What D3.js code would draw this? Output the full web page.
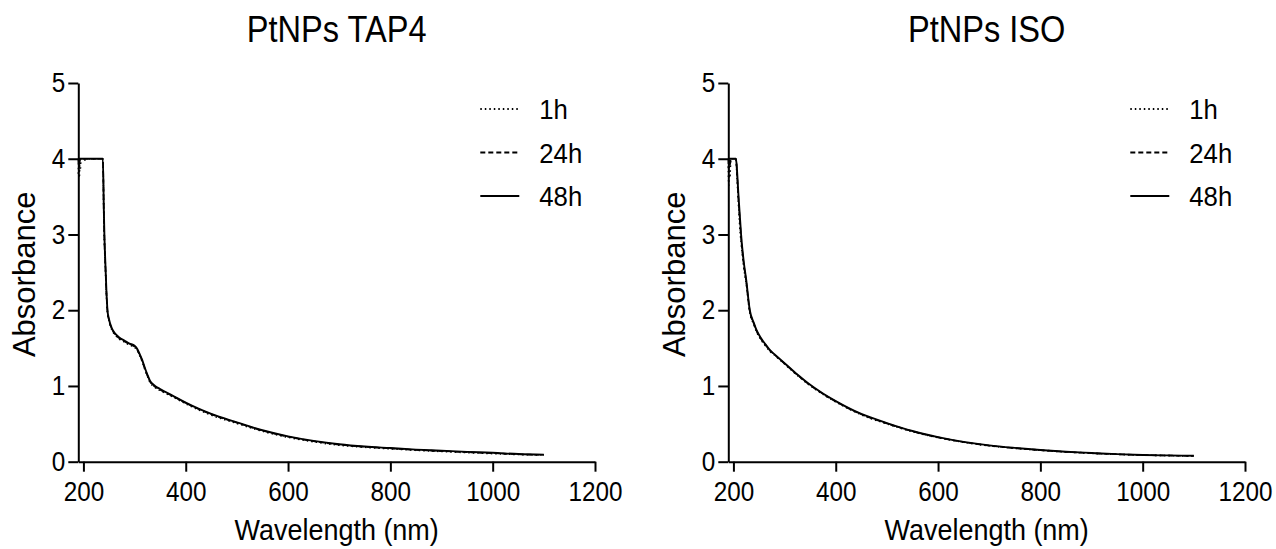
<!DOCTYPE html>
<html>
<head>
<meta charset="utf-8">
<script src="https://cdn.jsdelivr.net/npm/d3@7"></script>
<style>
body{margin:0;background:#fff;}
svg text{font-family:"Liberation Sans",Arial,sans-serif;fill:#000;}
</style>
</head>
<body>
<svg id="chart" width="1276" height="549"></svg>
<script>
'use strict';

var xTicks=[200,400,600,800,1000,1200]
  , yTicks=[0,1,2,3,4,5]
  , seriesNames=['1h','24h','48h']
  , dashes=['1.5,3','5,3','none'];

var tapWl=[190,191,192,193,194,195,200,210,220,230,238,240,241,243,245,247,250,255,260,265,270,280,290,300,305,310,315,320,325,330,340,350,375,400,425,450,500,550,600,650,700,750,800,850,900,950,1000,1050,1100]
  , tap1h=[3.8,4,3.75,3.95,3.85,4,3.98,4,4,4,4,3.2,2.9,2.55,2.2,1.97,1.86,1.75,1.69,1.65,1.62,1.58,1.54,1.51,1.47,1.4,1.32,1.22,1.13,1.05,0.98,0.94,0.855,0.765,0.685,0.615,0.505,0.402,0.322,0.263,0.218,0.19,0.17,0.15,0.135,0.12,0.107,0.095,0.088]
  , tap24h=[4,3.9,4,3.96,4,4,4,4,4,4,4,3.25,2.95,2.58,2.23,1.99,1.87,1.76,1.7,1.66,1.63,1.59,1.55,1.52,1.48,1.41,1.33,1.23,1.14,1.06,0.99,0.95,0.865,0.775,0.695,0.625,0.515,0.41,0.33,0.27,0.225,0.196,0.176,0.155,0.14,0.125,0.112,0.098,0.09]
  , tap48h=[4,4,4,4,4,4,4,4,4,4,4,3.3,3.0,2.6,2.25,2.0,1.88,1.77,1.71,1.67,1.64,1.6,1.56,1.53,1.49,1.42,1.34,1.24,1.15,1.07,1.0,0.96,0.87,0.78,0.7,0.63,0.52,0.415,0.335,0.275,0.23,0.2,0.18,0.16,0.145,0.13,0.118,0.102,0.093];

var isoWl=[190,191,192,193,195,200,205,207,210,213,215,220,225,232,240,245,255,265,271,280,300,325,346,375,400,450,500,550,600,650,700,750,800,850,900,950,1000,1050,1100]
  , iso1h=[3.9,3.65,3.95,3.75,4,4,3.98,3.75,3.38,3.05,2.9,2.58,2.35,1.97,1.81,1.72,1.6,1.51,1.46,1.41,1.29,1.14,1.025,0.89,0.79,0.62,0.5,0.397,0.318,0.256,0.21,0.177,0.151,0.128,0.111,0.097,0.087,0.08,0.075]
  , iso24h=[4,3.85,4,3.9,4,4,4,3.82,3.45,3.15,2.96,2.62,2.38,1.99,1.82,1.73,1.61,1.52,1.47,1.415,1.295,1.145,1.03,0.895,0.795,0.625,0.505,0.401,0.321,0.259,0.212,0.179,0.153,0.13,0.113,0.098,0.088,0.081,0.076]
  , iso48h=[4,4,4,4,4,4,4,3.85,3.5,3.2,3.0,2.65,2.4,2.0,1.83,1.74,1.62,1.53,1.475,1.42,1.3,1.15,1.035,0.9,0.8,0.63,0.51,0.405,0.325,0.262,0.215,0.182,0.155,0.132,0.115,0.1,0.089,0.083,0.078];

var svg=d3.select('#chart')
  , yTop=83
  , yBottom=461.7
  , plotW=516.7;

// squeeze text sideways, the source font is narrower than Liberation Sans
function squeeze(sel,s){
    sel.each(function(){
        var t=d3.select(this)
          , x=+t.attr('x')||0
          , y=+t.attr('y')||0
        t.attr('x',0).attr('y',0)
         .attr('transform','translate('+x+','+y+') scale('+s+',1)');
    });
}

function panel(ox,title,wl,sets){
    var x=d3.scaleLinear().domain([190,1200]).range([ox,ox+plotW])
      , y=d3.scaleLinear().domain([0,5]).range([yBottom,yTop])
      , g=svg.append('g')
      , line=d3.line().curve(d3.curveMonotoneX).x(function(d){return x(d[0]);}).y(function(d){return y(d[1]);})

    g.append('text')
        .attr('x',ox+plotW/2)
        .attr('y',41.5)
        .attr('text-anchor','middle')
        .style('font-size','37px')
        .text(title)
        .call(squeeze,0.88);

    sets.forEach(function(v,i){
        g.append('path')
            .datum(d3.zip(wl,v))
            .attr('d',line)
            .attr('fill','none')
            .attr('stroke','#000')
            .attr('stroke-width',i==2?1.9:1.6)
            .attr('stroke-dasharray',dashes[i]);
    });

    var ya=g.append('g')
        .attr('transform','translate('+ox+',0)')
        .call(d3.axisLeft(y).tickValues(yTicks).tickSize(10).tickSizeOuter(0).tickPadding(3).tickFormat(d3.format('d')));
    var xa=g.append('g')
        .attr('transform','translate(0,'+yBottom+')')
        .call(d3.axisBottom(x).tickValues(xTicks).tickSize(10).tickSizeOuter(0).tickPadding(10).tickFormat(d3.format('d')));

    [ya,xa].forEach(function(a){
        a.selectAll('path,line').attr('stroke','#000').attr('stroke-width',2);
        a.selectAll('text').style('font-size','27px').attr('fill','#000').call(squeeze,0.9);
    });

    g.append('text')
        .attr('x',ox+plotW/2)
        .attr('y',540)
        .attr('text-anchor','middle')
        .style('font-size','29px')
        .text('Wavelength (nm)')
        .call(squeeze,0.93);
    g.append('text')
        .attr('transform','translate('+(ox-43)+','+((yTop+yBottom)/2+2)+') rotate(-90)')
        .attr('text-anchor','middle')
        .style('font-size','31px')
        .text('Absorbance');

    var lg=g.append('g').attr('transform','translate('+(ox+402)+',109)');
    seriesNames.forEach(function(n,i){
        lg.append('line')
            .attr('x1',0).attr('x2',39)
            .attr('y1',i*43.5).attr('y2',i*43.5)
            .attr('stroke','#000')
            .attr('stroke-width',i==2?2:1.8)
            .attr('stroke-dasharray',dashes[i]);
        lg.append('text')
            .attr('x',59)
            .attr('y',i*43.5+10)
            .style('font-size','28px')
            .text(n)
            .call(squeeze,0.92);
    });
}

panel(78.3,'PtNPs TAP4',tapWl,[tap1h,tap24h,tap48h]);
panel(728.3,'PtNPs ISO',isoWl,[iso1h,iso24h,iso48h]);
</script>
</body>
</html>
